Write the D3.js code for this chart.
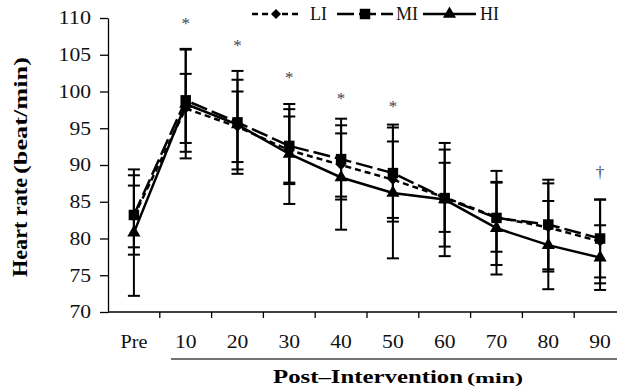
<!DOCTYPE html>
<html>
<head>
<meta charset="utf-8">
<script src="https://cdn.jsdelivr.net/npm/d3@7"></script>
<style>
  body { margin: 0; background: #fff; }
  svg { display: block; font-family: "Liberation Serif", "Times New Roman", Times, serif; }
</style>
</head>
<body>
<svg id="chart" width="617" height="389"></svg>
<script>
// values
const categories = ["Pre", "10", "20", "30", "40", "50", "60", "70", "80", "90"];
const liMean = [83.0, 97.7, 95.2, 92.0, 90.0, 88.0, 85.6, 82.9, 81.5, 79.6];
const liSD   = [4.2, 4.7, 4.8, 4.6, 4.3, 5.2, 4.7, 4.7, 6.0, 5.7];
const miMean = [83.2, 98.8, 95.8, 92.6, 90.8, 88.9, 85.5, 82.8, 81.9, 80.0];
const miSD   = [5.4, 7.0, 7.0, 5.0, 5.5, 6.6, 6.6, 6.4, 6.1, 5.3];
const hiMean = [80.8, 98.3, 95.5, 91.5, 88.3, 86.2, 85.3, 81.4, 79.1, 77.4];
const hiSD   = [8.6, 7.4, 6.1, 6.8, 7.1, 8.9, 7.7, 6.3, 6.0, 4.4];
const yTicks = [70, 75, 80, 85, 90, 95, 100, 105, 110];
// significance marks: category, y value
const marks = [["10", 109.6], ["20", 106.6], ["30", 102.3], ["40", 99.4], ["50", 98.3], ["90", 89.3]];
const markSymbols = ["*", "*", "*", "*", "*", "†"];

const series = [
  { name: "LI", mean: liMean, sd: liSD, dash: "6,4", symbol: d3.symbolDiamond2, size: 64 },
  { name: "MI", mean: miMean, sd: miSD, dash: "17,5", symbol: d3.symbolSquare, size: 110 },
  { name: "HI", mean: hiMean, sd: hiSD, dash: null, symbol: d3.symbolTriangle, size: 75 }
];

const svg = d3.select("#chart");
const x = d3.scaleBand().domain(categories).range([108, 626]).padding(0);
const y = d3.scaleLinear().domain([70, 110]).range([312, 18]);
const cx = c => x(c) + x.bandwidth() / 2;
// the original picture is a bit stretched sideways, so text is fitted to measured widths
const labelWidth = s => s === "Pre" ? 27 : s.length * 10.8;

// y axis
const yAxis = svg.append("g")
  .attr("transform", "translate(108,0)")
  .call(d3.axisLeft(y).tickValues(yTicks).tickSize(8).tickSizeOuter(0).tickPadding(9));
yAxis.attr("font-family", null).attr("font-size", null);
yAxis.select(".domain").attr("stroke", "#000").attr("stroke-width", 1.3);
yAxis.selectAll(".tick line").attr("stroke", "#000").attr("stroke-width", 1.3);
yAxis.selectAll("text").attr("font-size", 18).attr("fill", "#111")
  .attr("textLength", d => labelWidth(String(d))).attr("lengthAdjust", "spacingAndGlyphs");

// x axis (ticks at category boundaries)
svg.append("line").attr("x1", 108).attr("x2", 617).attr("y1", y(70)).attr("y2", y(70))
  .attr("stroke", "#000").attr("stroke-width", 1.3);
svg.selectAll(".xtick").data(categories.slice(1)).join("line")
  .attr("x1", d => x(d)).attr("x2", d => x(d))
  .attr("y1", y(70)).attr("y2", y(70) + 6)
  .attr("stroke", "#000").attr("stroke-width", 1.3);
svg.selectAll(".xlab").data(categories).join("text")
  .attr("x", d => cx(d) - labelWidth(d) / 2).attr("y", 348)
  .attr("font-size", 18).attr("fill", "#111")
  .attr("textLength", d => labelWidth(d)).attr("lengthAdjust", "spacingAndGlyphs")
  .text(d => d);

// bracket line under post-intervention labels
svg.append("line").attr("x1", 171).attr("x2", 617).attr("y1", 359).attr("y2", 359)
  .attr("stroke", "#444").attr("stroke-width", 1.5);

// axis titles
svg.append("text").attr("x", 273).attr("y", 383).attr("font-weight", "bold")
  .attr("font-size", 19).attr("fill", "#000")
  .attr("textLength", 190).attr("lengthAdjust", "spacingAndGlyphs")
  .text("Post–Intervention");
svg.append("text").attr("x", 467).attr("y", 383).attr("font-weight", "bold")
  .attr("font-size", 15).attr("fill", "#000")
  .attr("textLength", 56).attr("lengthAdjust", "spacingAndGlyphs")
  .text("(min)");

const yt = svg.append("g").attr("transform", "translate(27,0) rotate(-90)");
yt.append("text").attr("x", -277).attr("y", 0).attr("font-weight", "bold")
  .attr("font-size", 20).attr("fill", "#000")
  .attr("textLength", 99).attr("lengthAdjust", "spacingAndGlyphs")
  .text("Heart rate");
yt.append("text").attr("x", -174).attr("y", 0).attr("font-weight", "bold")
  .attr("font-size", 18).attr("fill", "#000")
  .attr("textLength", 117).attr("lengthAdjust", "spacingAndGlyphs")
  .text("(beat/min)");

// error bars
series.forEach(s => {
  const g = svg.append("g").attr("stroke", "#000").attr("stroke-width", 2);
  categories.forEach((c, i) => {
    const hi = y(s.mean[i] + s.sd[i]), lo = y(s.mean[i] - s.sd[i]), px = cx(c);
    g.append("line").attr("x1", px).attr("x2", px).attr("y1", hi).attr("y2", lo);
    g.append("line").attr("x1", px - 6).attr("x2", px + 6).attr("y1", hi).attr("y2", hi);
    g.append("line").attr("x1", px - 6).attr("x2", px + 6).attr("y1", lo).attr("y2", lo);
  });
});

// lines and markers
const line = d3.line().x((d, i) => cx(categories[i])).y(d => y(d));
series.forEach(s => {
  svg.append("path").datum(s.mean)
    .attr("d", line).attr("fill", "none").attr("stroke", "#000").attr("stroke-width", 2.5)
    .attr("stroke-dasharray", s.dash);
  svg.selectAll(null).data(s.mean).join("path")
    .attr("transform", (d, i) => `translate(${cx(categories[i])},${y(d)})`)
    .attr("d", d3.symbol(s.symbol, s.size)).attr("fill", "#000");
});

// significance marks
svg.selectAll(".sig").data(marks).join("text")
  .attr("x", d => cx(d[0])).attr("y", d => y(d[1]) + 8)
  .attr("text-anchor", "middle").attr("font-size", 17).attr("fill", "#445")
  .text((d, i) => markSymbols[i]);

// legend
const legend = [[252, 300, 310], [337, 393, 396], [423, 476, 480]];
series.forEach((s, i) => {
  const [a, b, t] = legend[i];
  const g = svg.append("g");
  g.append("line").attr("x1", a).attr("x2", b).attr("y1", 14).attr("y2", 14)
    .attr("stroke", "#000").attr("stroke-width", 2.5).attr("stroke-dasharray", s.dash);
  g.append("path").attr("transform", `translate(${(a + b) / 2},14)`)
    .attr("d", d3.symbol(s.symbol, s.size)).attr("fill", "#000");
  g.append("text").attr("x", t).attr("y", 20).attr("font-size", 18).attr("fill", "#111").text(s.name);
});
</script>
</body>
</html>
